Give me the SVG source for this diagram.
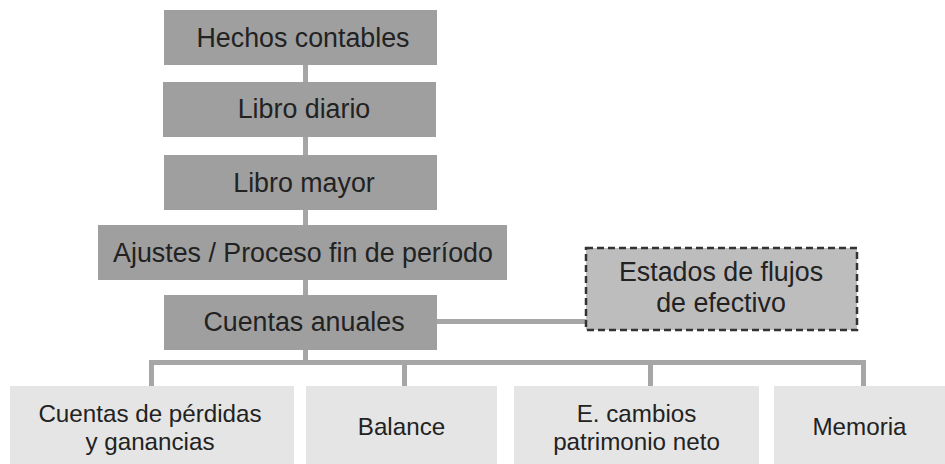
<svg xmlns="http://www.w3.org/2000/svg" width="945" height="464" viewBox="0 0 945 464">
<style>
.main{fill:#9f9f9f}
.side{fill:#bdbdbd;stroke:#333;stroke-width:2.5;stroke-dasharray:7 4}
.leaf{fill:#e5e5e5}
.t{font-family:"Liberation Sans",Arial,sans-serif;font-size:26.8px;fill:#222;text-anchor:middle}
.s{font-family:"Liberation Sans",Arial,sans-serif;font-size:24.2px;fill:#222;text-anchor:middle}
.c{stroke:#a6a6a6;stroke-width:5;fill:none}
</style>
<rect width="945" height="464" fill="#fff"/>
<g id="connectors">
<line class="c" x1="305.5" y1="65" x2="305.5" y2="362.5"/>
<line class="c" x1="437" y1="321.5" x2="586" y2="321.5"/>
<polyline class="c" points="151.5,386 151.5,362.5 863.5,362.5 863.5,386"/>
<line class="c" x1="404.5" y1="362.5" x2="404.5" y2="386"/>
<line class="c" x1="650.5" y1="362.5" x2="650.5" y2="386"/>
</g>
<g id="hechos"><rect class="main" x="164" y="10" width="273" height="55"/><text class="t" x="303" y="46.5">Hechos contables</text></g>
<g id="diario"><rect class="main" x="163" y="82" width="273" height="55"/><text class="t" x="304" y="118">Libro diario</text></g>
<g id="mayor"><rect class="main" x="164" y="155" width="273" height="55"/><text class="t" x="304" y="191.5">Libro mayor</text></g>
<g id="ajustes"><rect class="main" x="98" y="225" width="409" height="55"/><text class="t" x="303" y="261.5">Ajustes / Proceso fin de período</text></g>
<g id="cuentas"><rect class="main" x="164" y="295" width="273" height="55"/><text class="t" x="304" y="331">Cuentas anuales</text></g>
<g id="flujos"><rect class="side" x="586" y="248" width="271" height="82"/><text class="t" x="721" y="281">Estados de flujos</text><text class="t" x="721" y="312">de efectivo</text></g>
<g id="pyg"><rect class="leaf" x="10" y="386" width="284" height="78"/><text class="s" x="150" y="422">Cuentas de pérdidas</text><text class="s" x="150" y="450">y ganancias</text></g>
<g id="balance"><rect class="leaf" x="306" y="386" width="191" height="78"/><text class="s" x="401.5" y="435">Balance</text></g>
<g id="ecpn"><rect class="leaf" x="514" y="386" width="245" height="78"/><text class="s" x="636.5" y="422">E. cambios</text><text class="s" x="636.5" y="450">patrimonio neto</text></g>
<g id="memoria"><rect class="leaf" x="774" y="386" width="171" height="78"/><text class="s" x="859.5" y="435">Memoria</text></g>
</svg>
